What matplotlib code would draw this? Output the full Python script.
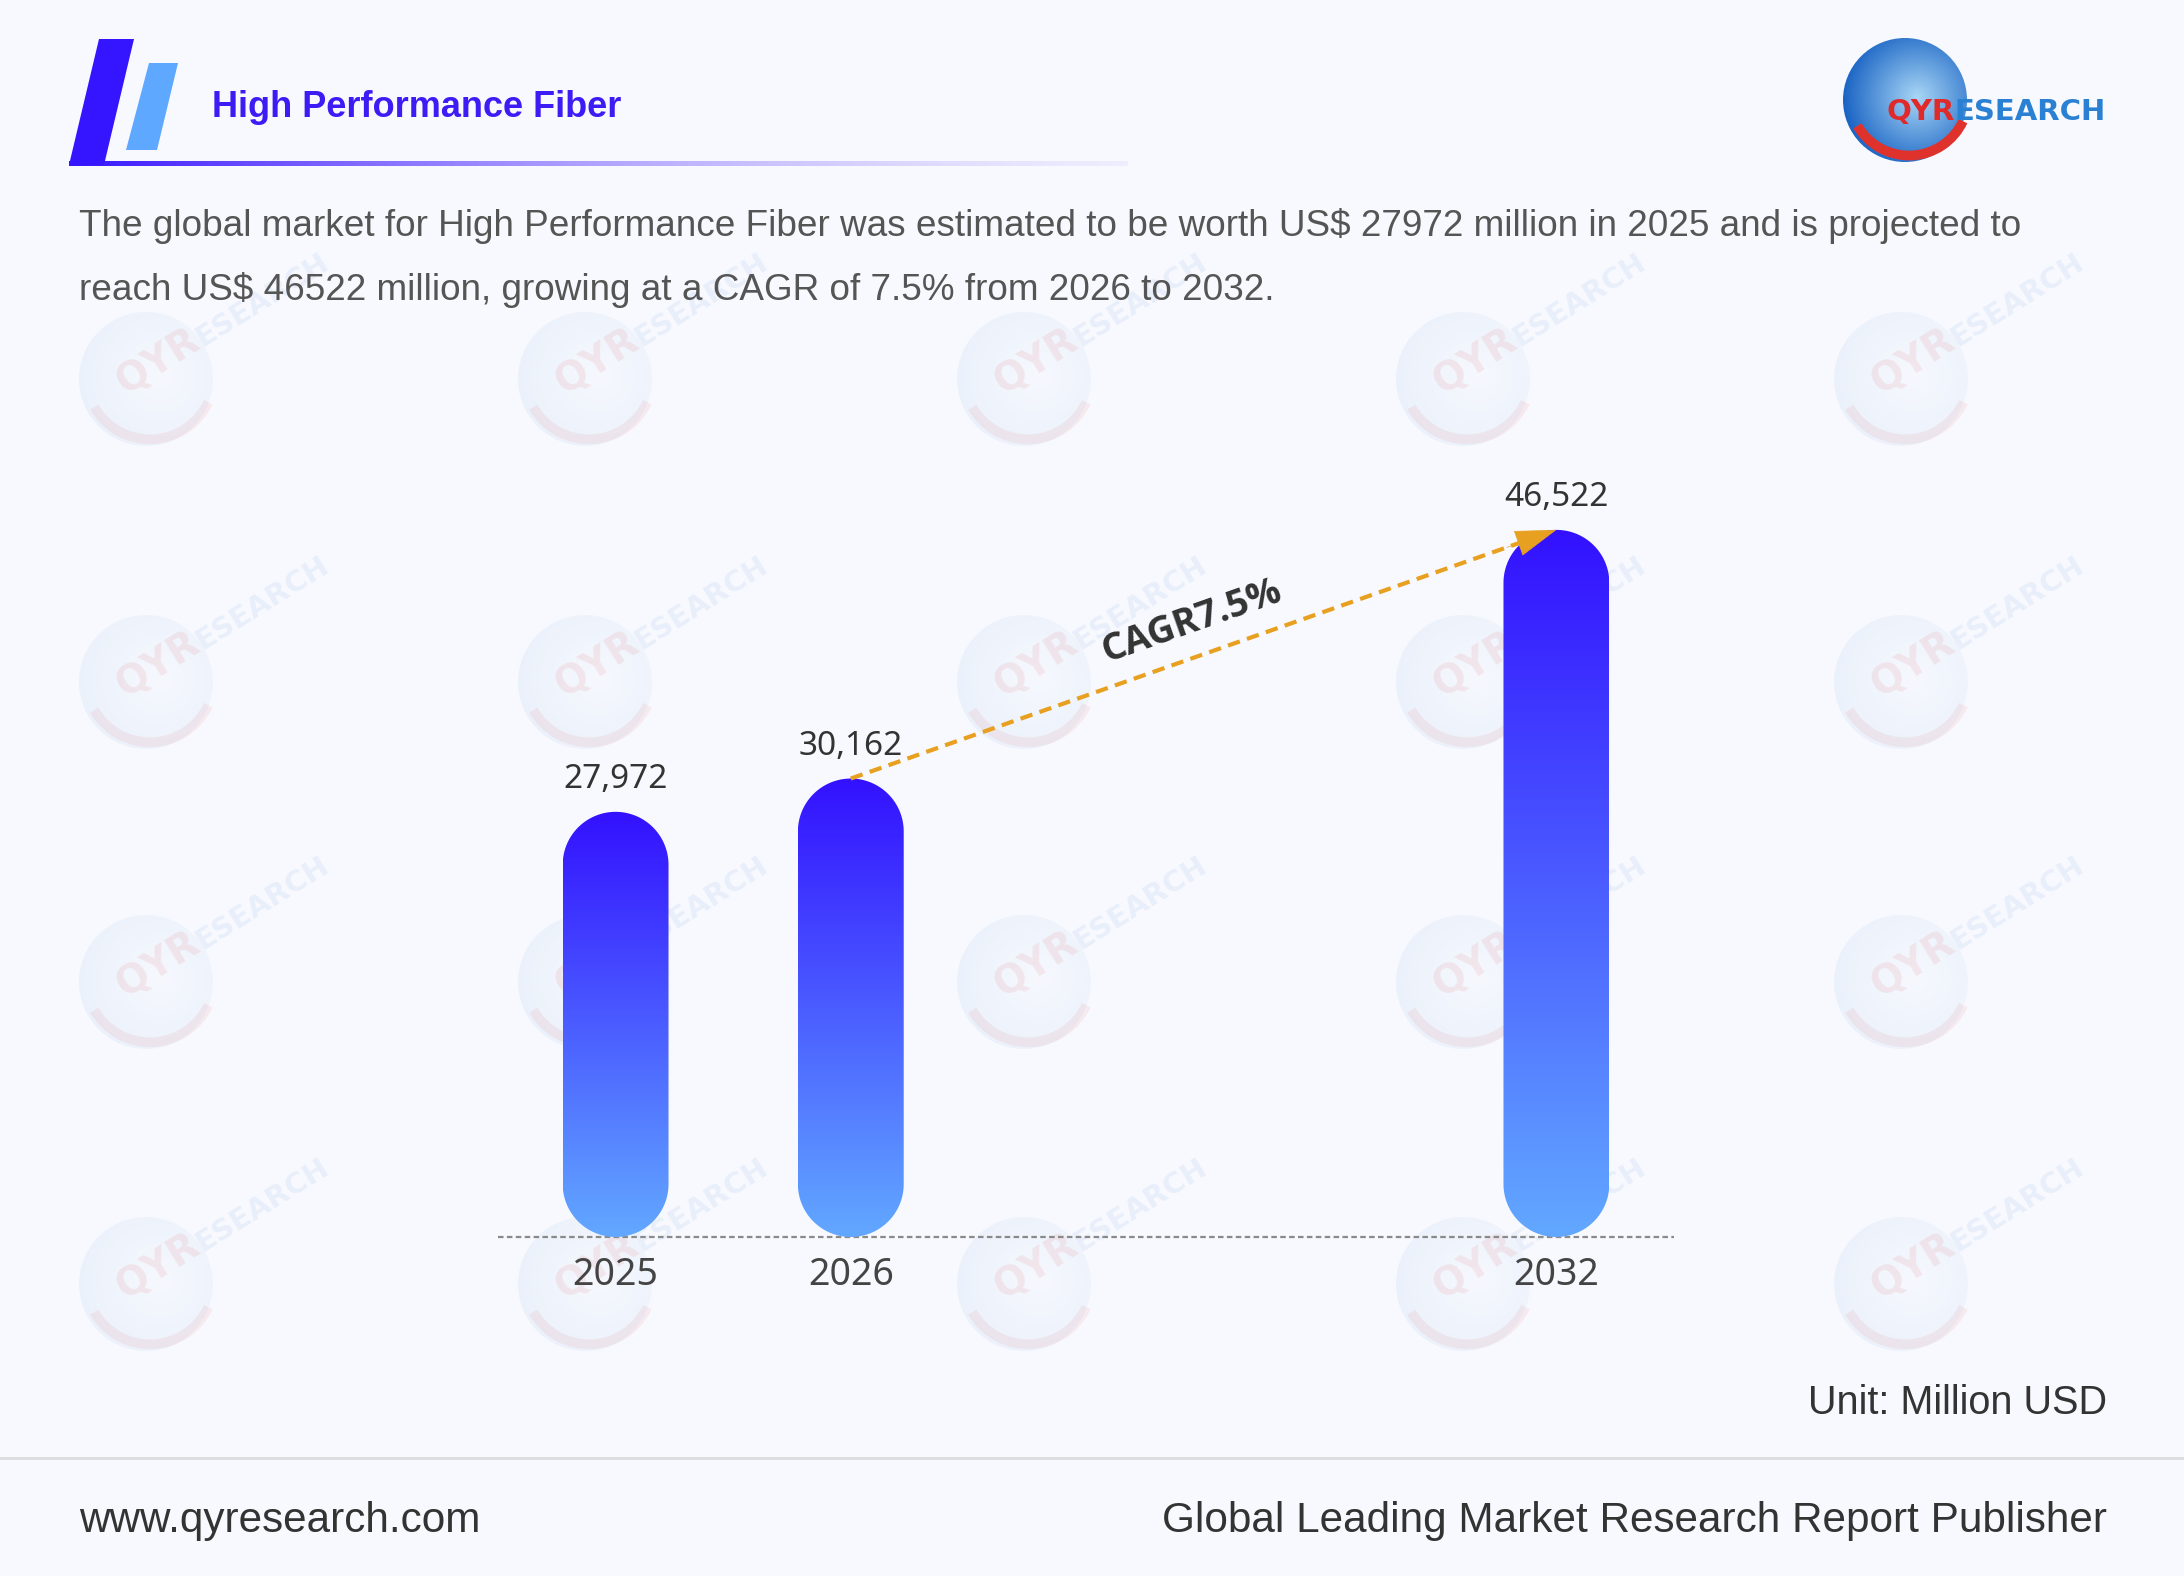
import numpy as np
import matplotlib
matplotlib.use("Agg")
import matplotlib.pyplot as plt
from matplotlib.patches import Polygon, Circle, Arc
from matplotlib.colors import LinearSegmentedColormap, to_rgb

W, H = 2184, 1576
BG = "#f8f9fe"

# ── data ────────────────────────────────────────────────
years  = ["2025", "2026", "2032"]
values = [27972, 30162, 46522]
cagr   = "7.5%"

title = "High Performance Fiber"
desc_lines = [
    "The global market for High Performance Fiber was estimated to be worth US$ 27972 million in 2025 and is projected to",
    "reach US$ 46522 million, growing at a CAGR of 7.5% from 2026 to 2032.",
]
unit_text = "Unit: Million USD"
site      = "www.qyresearch.com"
slogan    = "Global Leading Market Research Report Publisher"

# layout: 2032 stands apart from the first two years
x_pos = [0, 1, 4]
BAR_W = 0.45
TOP_C, BOT_C = "#3311ff", "#62a8ff"
ARROW_C = "#e8a020"

fig = plt.figure(figsize=(W / 100, H / 100), dpi=100, facecolor=BG)

# background layer in pixel coordinates (header, watermarks, footer)
bg = fig.add_axes([0, 0, 1, 1])
bg.set_facecolor(BG)


def draw_globe(cx, cy, r, alpha=1.0, z=1, light="#a8d6f6", dark="#1a64c4"):
    n = 160
    yy, xx = np.mgrid[-1:1:n * 1j, -1:1:n * 1j]
    d = np.clip(np.hypot(xx - 0.2, yy + 0.05) / 1.2, 0, 1)[..., None]
    lc, dc = np.array(to_rgb(light)), np.array(to_rgb(dark))
    rgba = np.zeros((n, n, 4))
    rgba[..., :3] = lc * (1 - d) + dc * d
    rgba[..., 3] = alpha
    circ = Circle((cx, cy), r, facecolor="none", edgecolor="none")
    bg.add_patch(circ)
    im = bg.imshow(rgba, extent=(cx - r, cx + r, cy + r, cy - r), zorder=z,
                   interpolation="bilinear", aspect="auto")
    im.set_clip_path(circ)
    bg.add_patch(Arc((cx + 4, cy - 4), 2 * r * 0.96, 2 * r * 0.96, theta1=25, theta2=150,
                     color="#e0322c", lw=7, alpha=alpha, zorder=z + 0.1))


# watermarks
ang = 32
ca, sa = np.cos(np.radians(ang)), np.sin(np.radians(ang))
for cy in [379, 682, 982, 1284]:
    for cx in [146, 585, 1024, 1463, 1901]:
        draw_globe(cx, cy, 67, alpha=0.07, z=0.5, light="#d8ecfa", dark="#3a86d6")
        sx, sy = cx - 21, cy + 16
        bg.text(sx, sy, "QYR", rotation=ang, rotation_mode="anchor", ha="left", va="baseline",
                fontsize=28, fontweight="bold", color="#e05050", alpha=0.1,
                family="DejaVu Sans", zorder=0.6)
        off = 28 / 0.72 * 2.344
        bg.text(sx + off * ca, sy - off * sa, "ESEARCH", rotation=ang, rotation_mode="anchor",
                ha="left", va="baseline", fontsize=21, fontweight="bold", color="#5a9ad8",
                alpha=0.1, family="DejaVu Sans", zorder=0.6)

# header marks
bg.add_patch(Polygon([(99, 39), (134, 39), (104, 165), (69, 165)], closed=True,
                     facecolor="#3514ff", lw=0, zorder=2))
bg.add_patch(Polygon([(149, 63), (178, 63), (157, 150), (126, 150)], closed=True,
                     facecolor="#5fa8ff", lw=0, zorder=2))
n = 300
t = np.linspace(0, 1, n)
grad = np.zeros((1, n, 4))
grad[0, :, :3] = (1 - t)[:, None] * np.array(to_rgb("#3514ff")) + t[:, None] * np.array(to_rgb("#c9c2ff"))
grad[0, :, 3] = 1 - 0.8 * t
bg.imshow(grad, extent=(69, 1128, 166, 161), aspect="auto", zorder=2)

bg.text(212, 107, title, fontsize=26, fontweight="bold", color="#3b1cf5", va="center",
        family="Liberation Sans", zorder=3)
for i, line in enumerate(desc_lines):
    bg.text(79, 226 + i * 64, line, fontsize=26.6, color="#555555", va="center",
            family="Liberation Sans", zorder=3)

# logo top right
draw_globe(1905, 100, 62, alpha=1.0, z=2)
bg.text(1887, 120, "QYR", fontsize=21, fontweight="bold", color="#e02a2a", va="baseline",
        family="DejaVu Sans", zorder=3)
bg.text(1954, 120, "ESEARCH", fontsize=21, fontweight="bold", color="#2a80d2", va="baseline",
        family="DejaVu Sans", zorder=3)

# footer
bg.plot([0, W], [1458, 1458], color="#dcdcdc", lw=2, zorder=2)
bg.text(2107, 1403, unit_text, fontsize=28.5, color="#333333", ha="right", va="center",
        family="Liberation Sans", zorder=3)
bg.text(79, 1521, site, fontsize=30.4, color="#333333", ha="left", va="center",
        family="Liberation Sans", zorder=3)
bg.text(2107, 1521, slogan, fontsize=30.4, color="#333333", ha="right", va="center",
        family="Liberation Sans", zorder=3)

bg.set_xlim(0, W)
bg.set_ylim(H, 0)
bg.axis("off")

# ── chart ───────────────────────────────────────────────
ax = fig.add_axes([498 / W, (H - 1237) / H, 1176 / W, 760 / H])
ax.patch.set_alpha(0)
XMIN, XMAX, YMAX = -0.5, 4.5, 50000
px_w, px_h = 1176, 760
aspect = (YMAX / px_h) / ((XMAX - XMIN) / px_w)   # y units per x unit on screen


def pill(x, v, w):
    # bar outline with semicircular ends, in data units
    rx = w / 2
    ry = rx * aspect
    a = np.linspace(0, np.pi, 60)
    top = np.column_stack([x + rx * np.cos(a), v - ry + ry * np.sin(a)])
    bot = np.column_stack([x - rx * np.cos(a), ry - ry * np.sin(a)])
    return Polygon(np.vstack([top, bot]), closed=True, facecolor="none", edgecolor="none")


cmap = LinearSegmentedColormap.from_list("bar", [BOT_C, TOP_C])
ramp = np.linspace(0, 1, 256)[:, None]
for x, v in zip(x_pos, values):
    shape = pill(x, v, BAR_W)
    ax.add_patch(shape)
    im = ax.imshow(ramp, cmap=cmap, origin="lower", aspect="auto", zorder=2,
                   extent=(x - BAR_W / 2, x + BAR_W / 2, 0, v))
    im.set_clip_path(shape)
    ax.annotate(f"{v:,}", (x, v), xytext=(0, 17), textcoords="offset points",
                ha="center", va="baseline", fontsize=24, color="#333333", family="Noto Sans")

ax.set_xlim(XMIN, XMAX)
ax.set_ylim(0, YMAX)
ax.axhline(0, color="#8a8a8a", lw=1.6, ls=(0, (2.5, 1.5)), zorder=1, clip_on=False)
ax.set_xticks(x_pos, years)
ax.tick_params(axis="x", length=0, pad=14, labelsize=27, labelcolor="#444444")
for lab in ax.get_xticklabels():
    lab.set_family("Noto Sans")
ax.set_yticks([])
for s in ax.spines.values():
    s.set_visible(False)

# CAGR arrow from 2026 to 2032
x1, v1, x2, v2 = x_pos[1], values[1], x_pos[2], values[2]
p1 = ax.transData.transform((x1, v1))
p2 = ax.transData.transform((x2, v2))
theta = np.degrees(np.arctan2(p2[1] - p1[1], p2[0] - p1[0]))
f = 0.95
ax.plot([x1, x1 + f * (x2 - x1)], [v1, v1 + f * (v2 - v1)], color=ARROW_C, lw=3,
        ls=(0, (3, 1.8)), zorder=3, solid_capstyle="butt")
ax.annotate("", xy=(x2, v2), xytext=(x1 + 0.93 * (x2 - x1), v1 + 0.93 * (v2 - v1)),
            arrowprops=dict(arrowstyle="-|>,head_length=1.4,head_width=0.45", color=ARROW_C,
                            lw=0.5, shrinkA=0, shrinkB=0, mutation_scale=20), zorder=3)
mx, my = (x1 + x2) / 2, (v1 + v2) / 2
perp = 25
ax.annotate(f"CAGR{cagr}", (mx, my),
            xytext=(-perp * np.sin(np.radians(theta)), perp * np.cos(np.radians(theta))),
            textcoords="offset points", rotation=theta, rotation_mode="anchor",
            ha="center", va="center", fontsize=27, fontweight="bold", color="#333333",
            family="Open Sans", zorder=4)

fig.savefig("out.png", dpi=100, facecolor=BG)
